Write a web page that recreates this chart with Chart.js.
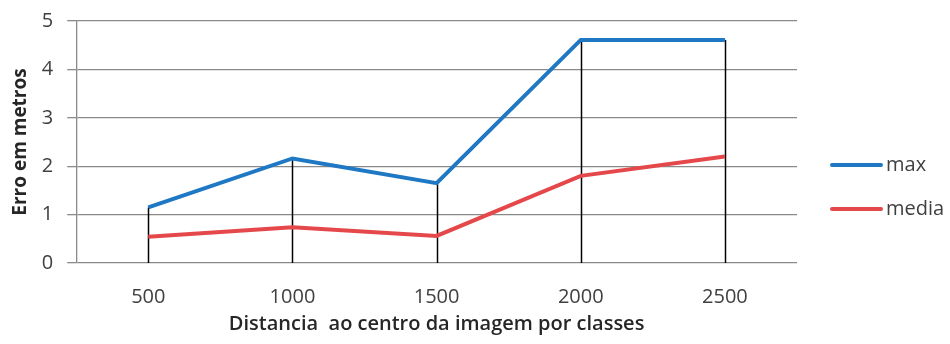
<!DOCTYPE html>
<html>
<head>
<meta charset="utf-8">
<script src="https://cdn.jsdelivr.net/npm/chart.js@4.4.0/dist/chart.umd.min.js"></script>
<style>
  html, body { margin: 0; padding: 0; background: #fff; }
  #wrap { width: 950px; height: 344px; }
</style>
</head>
<body>
<div id="wrap"><canvas id="myChart" width="950" height="344"></canvas></div>
<script>
const classes = ["500", "1000", "1500", "2000", "2500"];
const maxErr = [1.15, 2.16, 1.65, 4.61, 4.61];
const mediaErr = [0.54, 0.74, 0.56, 1.80, 2.20];
const yTicks = [0, 1, 2, 3, 4, 5];

const fontFamily = "'Open Sans', 'Noto Sans', sans-serif";
const textColor = "#404040";

// vertical drop lines from the highest point of each class down to zero
const dropLines = {
  id: "dropLines",
  beforeDatasetsDraw(chart) {
    const ctx = chart.ctx;
    const x = chart.scales.x;
    const y = chart.scales.y;
    ctx.save();
    ctx.strokeStyle = "#000";
    ctx.lineWidth = 1.5;
    for (let i = 0; i < classes.length; i++) {
      const top = Math.max(maxErr[i], mediaErr[i]);
      const px = Math.round(x.getPixelForValue(i)) + 0.5;
      ctx.beginPath();
      ctx.moveTo(px, y.getPixelForValue(top));
      ctx.lineTo(px, y.getPixelForValue(0));
      ctx.stroke();
    }
    ctx.restore();
  }
};

// legend to the right of the plot: a short line sample then the series name
const sideLegend = {
  id: "sideLegend",
  afterDraw(chart) {
    const ctx = chart.ctx;
    const left = chart.chartArea.right + 35;
    const rows = [165, 209];
    ctx.save();
    ctx.font = "20px " + fontFamily;
    ctx.textBaseline = "middle";
    chart.data.datasets.forEach((ds, i) => {
      const y = rows[i];
      ctx.strokeStyle = ds.borderColor;
      ctx.lineWidth = 4;
      ctx.lineCap = "round";
      ctx.beginPath();
      ctx.moveTo(left, y);
      ctx.lineTo(left + 49, y);
      ctx.stroke();
      ctx.fillStyle = textColor;
      ctx.fillText(ds.label, left + 54, y);
    });
    ctx.restore();
  }
};

const ctx = document.getElementById("myChart");

const myChart = new Chart(ctx, {
  type: "line",
  data: {
    labels: classes,
    datasets: [
      {
        label: "max",
        data: maxErr,
        borderColor: "#1f78c4",
        backgroundColor: "#1f78c4",
        borderWidth: 4,
        pointRadius: 0,
        tension: 0,
      },
      {
        label: "media",
        data: mediaErr,
        borderColor: "#e5484b",
        backgroundColor: "#e5484b",
        borderWidth: 4,
        pointRadius: 0,
        tension: 0,
      },
    ],
  },
  options: {
    responsive: false,
    animation: false,
    layout: {
      padding: { left: 9, right: 153, top: 21, bottom: 8 },
    },
    plugins: {
      legend: { display: false },
      tooltip: { enabled: false },
    },
    scales: {
      x: {
        offset: true,
        grid: { display: false, drawTicks: false },
        border: { display: false },
        ticks: {
          padding: 22,
          color: textColor,
          font: { family: fontFamily, size: 20 },
        },
        title: {
          display: true,
          text: "Distancia  ao centro da imagem por classes",
          color: "#262626",
          font: { family: fontFamily, size: 20, weight: "600" },
          padding: { top: -19, bottom: 0 },
        },
      },
      y: {
        min: 0,
        max: 5,
        afterBuildTicks(axis) {
          axis.ticks = yTicks.map((v) => ({ value: v }));
        },
        afterFit(axis) {
          axis.paddingTop = 0;
        },
        grid: {
          color: "#8a8a8a",
          lineWidth: 1.3,
          tickLength: 9,
        },
        border: { color: "#8a8a8a", width: 1.3 },
        ticks: {
          padding: 14,
          color: textColor,
          font: { family: fontFamily, size: 20 },
        },
        title: {
          display: true,
          text: "Erro em metros",
          color: "#262626",
          font: { family: fontFamily, size: 19, weight: "bold" },
          padding: { top: 0, bottom: -4 },
        },
      },
    },
  },
  plugins: [dropLines, sideLegend],
});
</script>
</body>
</html>
